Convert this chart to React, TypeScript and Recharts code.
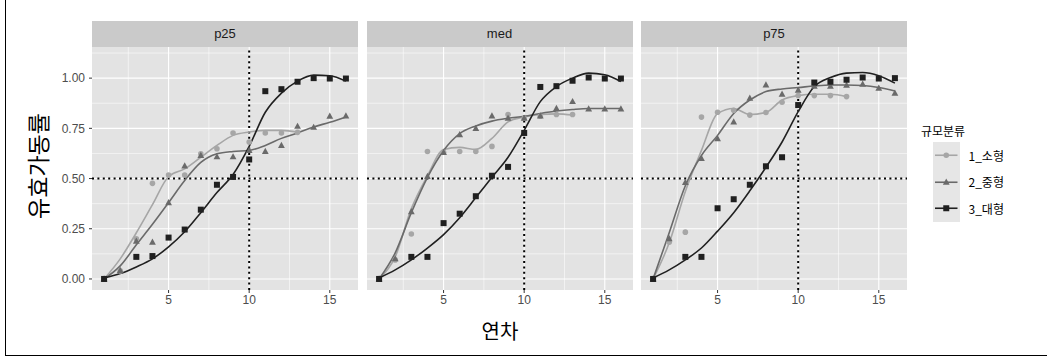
import React from 'react';
import { ComposedChart, Line, Scatter, XAxis, YAxis, CartesianGrid, ReferenceLine } from 'recharts';

// x = 연차 (years 1..16)
const years = [1, 2, 3, 4, 5, 6, 7, 8, 9, 10, 11, 12, 13, 14, 15, 16];
const facets = ['p25', 'med', 'p75'];
const groups = ['1_소형', '2_중형', '3_대형'];

const xTicks = [5, 10, 15];
const xMinor = [2.5, 7.5, 12.5];
const yTicks = [0, 0.25, 0.5, 0.75, 1];
const yMinor = [0.125, 0.375, 0.625, 0.875, 1.125];
const guideX = 10;
const guideY = 0.5;

// observed points (null = no point)
const p25Small = [0, 0.04, 0.2, 0.476, 0.518, 0.518, 0.623, 0.648, 0.727, 0.682, 0.727, 0.727, 0.73];
const p25Mid = [0, 0.042, 0.188, 0.183, 0.38, 0.563, 0.615, 0.608, 0.608, 0.64, 0.635, 0.665, 0.76, 0.755, 0.81, 0.812];
const p25Large = [0, null, 0.11, 0.114, 0.206, 0.246, 0.345, 0.469, 0.508, 0.595, 0.935, 0.945, 0.982, 1.0, 0.998, 0.998];

const medSmall = [0, 0.095, 0.224, 0.635, 0.631, 0.635, 0.635, 0.66, 0.819, 0.8, 0.81, 0.819, 0.819];
const medMid = [0, 0.1, 0.335, 0.51, 0.63, 0.718, 0.749, 0.812, 0.8, 0.8, 0.812, 0.849, 0.883, 0.846, 0.846, 0.846];
const medLarge = [0, null, 0.11, 0.11, 0.278, 0.325, 0.412, 0.514, 0.558, 0.727, 0.956, 0.96, 0.987, 1.003, 0.998, 0.998];

const p75Small = [0, 0.183, 0.233, 0.806, 0.83, 0.84, 0.816, 0.829, 0.88, 0.913, 0.913, 0.913, 0.908];
const p75Mid = [0, 0.2, 0.48, 0.6, 0.698, 0.782, 0.9, 0.966, 0.92, 0.94, 0.96, 0.96, 0.965, 0.97, 0.95, 0.925];
const p75Large = [0, null, 0.11, 0.11, 0.352, 0.397, 0.469, 0.561, 0.606, 0.866, 0.978, 0.982, 0.992, 1.003, 0.998, 1.0];

// smoothed curves
const p25SmallFit = [0, 0.1, 0.23, 0.37, 0.51, 0.548, 0.606, 0.665, 0.715, 0.732, 0.74, 0.74, 0.732];
const p25MidFit = [0, 0.065, 0.17, 0.272, 0.38, 0.49, 0.58, 0.623, 0.635, 0.64, 0.665, 0.7, 0.727, 0.757, 0.78, 0.807];
const p25LargeFit = [0.005, 0.027, 0.06, 0.1, 0.16, 0.235, 0.33, 0.43, 0.52, 0.66, 0.83, 0.925, 0.985, 1.015, 1.012, 0.985];

const medSmallFit = [0, 0.11, 0.35, 0.514, 0.645, 0.655, 0.645, 0.7, 0.782, 0.807, 0.819, 0.822, 0.816];
const medMidFit = [0, 0.13, 0.33, 0.506, 0.64, 0.724, 0.762, 0.786, 0.8, 0.81, 0.824, 0.836, 0.844, 0.849, 0.849, 0.849];
const medLargeFit = [0.005, 0.045, 0.095, 0.154, 0.221, 0.305, 0.405, 0.506, 0.606, 0.74, 0.883, 0.958, 1.0, 1.025, 1.017, 0.983];

const p75SmallFit = [0, 0.18, 0.436, 0.64, 0.824, 0.849, 0.819, 0.829, 0.891, 0.913, 0.92, 0.92, 0.908];
const p75MidFit = [0, 0.23, 0.464, 0.615, 0.715, 0.824, 0.891, 0.933, 0.946, 0.953, 0.961, 0.966, 0.966, 0.963, 0.953, 0.936];
const p75LargeFit = [0.005, 0.045, 0.095, 0.154, 0.238, 0.33, 0.439, 0.556, 0.682, 0.833, 0.958, 1.003, 1.025, 1.028, 1.012, 0.975];

const points = [
  [p25Small, p25Mid, p25Large],
  [medSmall, medMid, medLarge],
  [p75Small, p75Mid, p75Large],
];
const fits = [
  [p25SmallFit, p25MidFit, p25LargeFit],
  [medSmallFit, medMidFit, medLargeFit],
  [p75SmallFit, p75MidFit, p75LargeFit],
];

const colors = ['#A6A6A6', '#6A6A6A', '#202020'];
const FONT = 'Arial, "Liberation Sans", "Noto Sans CJK KR", sans-serif';
const KFONT = '"Noto Sans CJK KR", "Noto Sans", sans-serif';

const X_DOMAIN = [0.25, 16.75];
const Y_DOMAIN = [-0.055, 1.155];
const PANEL_W = 266;
const PANEL_H = 243;
const STRIP_H = 26;
const AXIS_W = 92;
const panelLefts = [92, 366.5, 641];

const toXY = (vals: (number | null)[]) =>
  vals.map((v, i) => ({ x: years[i], y: v })).filter((d) => d.y !== null);

const circle = (p: any) => <circle cx={p.cx} cy={p.cy} r={2.8} fill={colors[0]} />;
const triangle = (p: any) => (
  <polygon
    points={`${p.cx},${p.cy - 3.7} ${p.cx - 3.4},${p.cy + 2.5} ${p.cx + 3.4},${p.cy + 2.5}`}
    fill={colors[1]}
  />
);
const square = (p: any) => <rect x={p.cx - 3} y={p.cy - 3} width={6} height={6} fill={colors[2]} />;
const shapes = [circle, triangle, square];

// grid line positions (minor + major), mapped with the axis scale when available
const hGen = (vals: number[]) => (props: any) => {
  const s = props.yAxis && props.yAxis.scale;
  if (typeof s === 'function') return vals.map((v) => s(v));
  const o = props.offset;
  return vals.map((v) => o.top + ((Y_DOMAIN[1] - v) / (Y_DOMAIN[1] - Y_DOMAIN[0])) * o.height);
};
const vGen = (vals: number[]) => (props: any) => {
  const s = props.xAxis && props.xAxis.scale;
  if (typeof s === 'function') return vals.map((v) => s(v));
  const o = props.offset;
  return vals.map((v) => o.left + ((v - X_DOMAIN[0]) / (X_DOMAIN[1] - X_DOMAIN[0])) * o.width);
};

function Facet({ idx }: { idx: number }) {
  const axisW = idx === 0 ? AXIS_W : 0;
  const w = axisW + PANEL_W;
  return (
    <div style={{ position: 'absolute', left: panelLefts[idx] - axisW, top: 21, width: w }}>
      <div
        style={{
          marginLeft: axisW,
          width: PANEL_W,
          height: STRIP_H,
          background: '#CACACA',
          color: '#1A1A1A',
          fontSize: 13,
          lineHeight: `${STRIP_H}px`,
          textAlign: 'center',
        }}
      >
        {facets[idx]}
      </div>
      <ComposedChart width={w} height={PANEL_H + 30} margin={{ top: 0, right: 0, bottom: 0, left: 0 }}>
        <CartesianGrid
          fill="#E3E3E3"
          stroke="#FFFFFF"
          strokeWidth={0.55}
          horizontalCoordinatesGenerator={hGen(yMinor)}
          verticalCoordinatesGenerator={vGen(xMinor)}
        />
        <CartesianGrid
          stroke="#FFFFFF"
          strokeWidth={1.1}
          horizontalCoordinatesGenerator={hGen(yTicks)}
          verticalCoordinatesGenerator={vGen(xTicks)}
        />
        <XAxis
          dataKey="x"
          type="number"
          domain={X_DOMAIN}
          ticks={xTicks}
          allowDataOverflow
          height={30}
          axisLine={false}
          tickSize={3}
          tickLine={{ stroke: '#333333' }}
          tick={{ fill: '#4D4D4D', fontSize: 12 }}
        />
        {idx === 0 ? (
          <YAxis
            type="number"
            domain={Y_DOMAIN}
            ticks={yTicks}
            allowDataOverflow
            width={AXIS_W}
            axisLine={false}
            tickSize={3}
            tickMargin={4}
            tickLine={{ stroke: '#333333' }}
            tick={{ fill: '#4D4D4D', fontSize: 12 }}
            tickFormatter={(v: number) => v.toFixed(2)}
          />
        ) : (
          <YAxis type="number" domain={Y_DOMAIN} allowDataOverflow hide />
        )}
        <ReferenceLine x={guideX} stroke="#000" strokeWidth={2} strokeDasharray="2 3.4" />
        <ReferenceLine y={guideY} stroke="#000" strokeWidth={2} strokeDasharray="2 3.4" />
        {groups.map((g, gi) => (
          <Scatter
            key={'p' + g}
            name={g}
            data={toXY(points[idx][gi])}
            dataKey="y"
            shape={shapes[gi]}
            isAnimationActive={false}
          />
        ))}
        {groups.map((g, gi) => (
          <Line
            key={'l' + g}
            name={g}
            data={toXY(fits[idx][gi])}
            dataKey="y"
            type="monotone"
            stroke={colors[gi]}
            strokeWidth={1.6}
            dot={false}
            activeDot={false}
            isAnimationActive={false}
          />
        ))}
      </ComposedChart>
    </div>
  );
}

function LegendBox() {
  return (
    <div style={{ position: 'absolute', left: 921, top: 123 }}>
      <div style={{ fontSize: 12, color: '#000', fontFamily: KFONT, lineHeight: '16px' }}>규모분류</div>
      <div style={{ marginLeft: 12, marginTop: 3 }}>
        {groups.map((g, gi) => (
          <div key={g} style={{ display: 'flex', alignItems: 'center', height: 26.5 }}>
            <svg width={26.5} height={26.5} style={{ background: '#E6E6E6', display: 'block' }}>
              <line x1={2} x2={24.5} y1={13.25} y2={13.25} stroke={colors[gi]} strokeWidth={1.6} />
              {shapes[gi]({ cx: 13.25, cy: 13.25 })}
            </svg>
            <span style={{ marginLeft: 9, fontSize: 12, color: '#000', fontFamily: KFONT }}>{g}</span>
          </div>
        ))}
      </div>
    </div>
  );
}

export default function App() {
  return (
    <div
      style={{
        position: 'absolute',
        left: 0,
        top: 0,
        width: 1047,
        height: 361,
        background: '#FFFFFF',
        fontFamily: FONT,
        overflow: 'hidden',
      }}
    >
      <div
        style={{
          position: 'absolute',
          left: 5,
          top: 0,
          width: 1042,
          height: 355,
          borderLeft: '1px solid #000',
          borderBottom: '1px solid #000',
        }}
      />
      {facets.map((f, i) => (
        <Facet key={f} idx={i} />
      ))}
      <div
        style={{
          position: 'absolute',
          left: 37,
          top: 166,
          transform: 'translate(-50%, -50%) rotate(-90deg)',
          fontSize: 23,
          fontFamily: KFONT,
          color: '#000',
          whiteSpace: 'nowrap',
        }}
      >
        유효가동률
      </div>
      <div
        style={{
          position: 'absolute',
          left: 500,
          top: 330,
          transform: 'translate(-50%, -50%)',
          fontSize: 20,
          fontFamily: KFONT,
          color: '#000',
          whiteSpace: 'nowrap',
        }}
      >
        연차
      </div>
      <LegendBox />
    </div>
  );
}
